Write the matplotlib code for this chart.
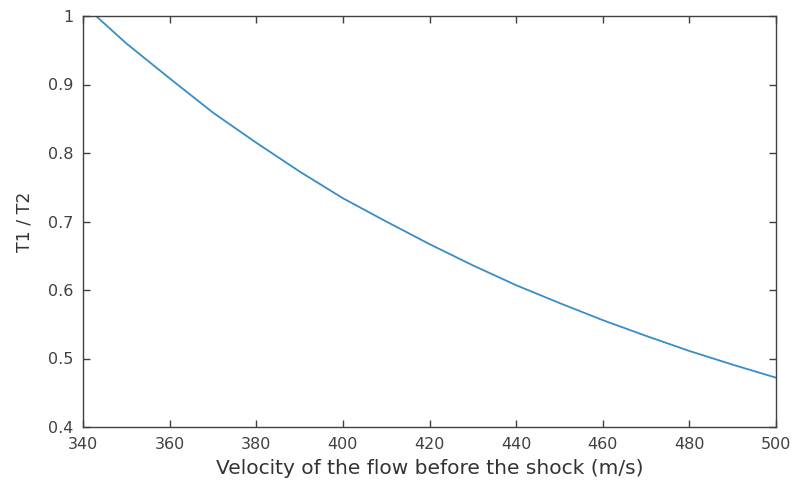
import matplotlib
matplotlib.use("Agg")
import matplotlib.pyplot as plt
from matplotlib.ticker import FuncFormatter

velocity = [343, 350, 360, 370, 380, 390, 400, 410, 420, 430, 440, 450, 460, 470, 480, 490, 500]
t_ratio = [1.0, 0.960, 0.909, 0.859, 0.815, 0.773, 0.734, 0.700, 0.667, 0.636, 0.607,
           0.581, 0.556, 0.533, 0.511, 0.491, 0.472]
x_ticks = [340, 360, 380, 400, 420, 440, 460, 480, 500]
y_ticks = [0.4, 0.5, 0.6, 0.7, 0.8, 0.9, 1.0]

plt.rcParams['font.family'] = ['DejaVu Sans']

fig = plt.figure(figsize=(7.94, 4.8), dpi=100)
ax = fig.add_axes([83/794, 1-427/480, (776-83)/794, (427-16)/480])

ax.plot(velocity, t_ratio, color='#3a8cc4', linewidth=1.3)

ax.set_xlim(340, 500)
ax.set_ylim(0.4, 1.0)
ax.set_xticks(x_ticks)
ax.set_yticks(y_ticks)
ax.yaxis.set_major_formatter(FuncFormatter(lambda v, p: f"{v:g}"))

spine_col = '#404040'
for s in ax.spines.values():
    s.set_color(spine_col)
    s.set_linewidth(1.0)
ax.tick_params(direction='in', length=5, width=1.0, color=spine_col,
               top=True, right=True, labelsize=11.5, labelcolor='#404040', pad=7)

ax.set_xlabel('Velocity of the flow before the shock (m/s)', fontsize=14.5, color='#333333', labelpad=5)
ax.set_ylabel('T1 / T2', fontsize=12.5, color='#333333', labelpad=10)

fig.savefig('out.png', dpi=100, facecolor='white')
